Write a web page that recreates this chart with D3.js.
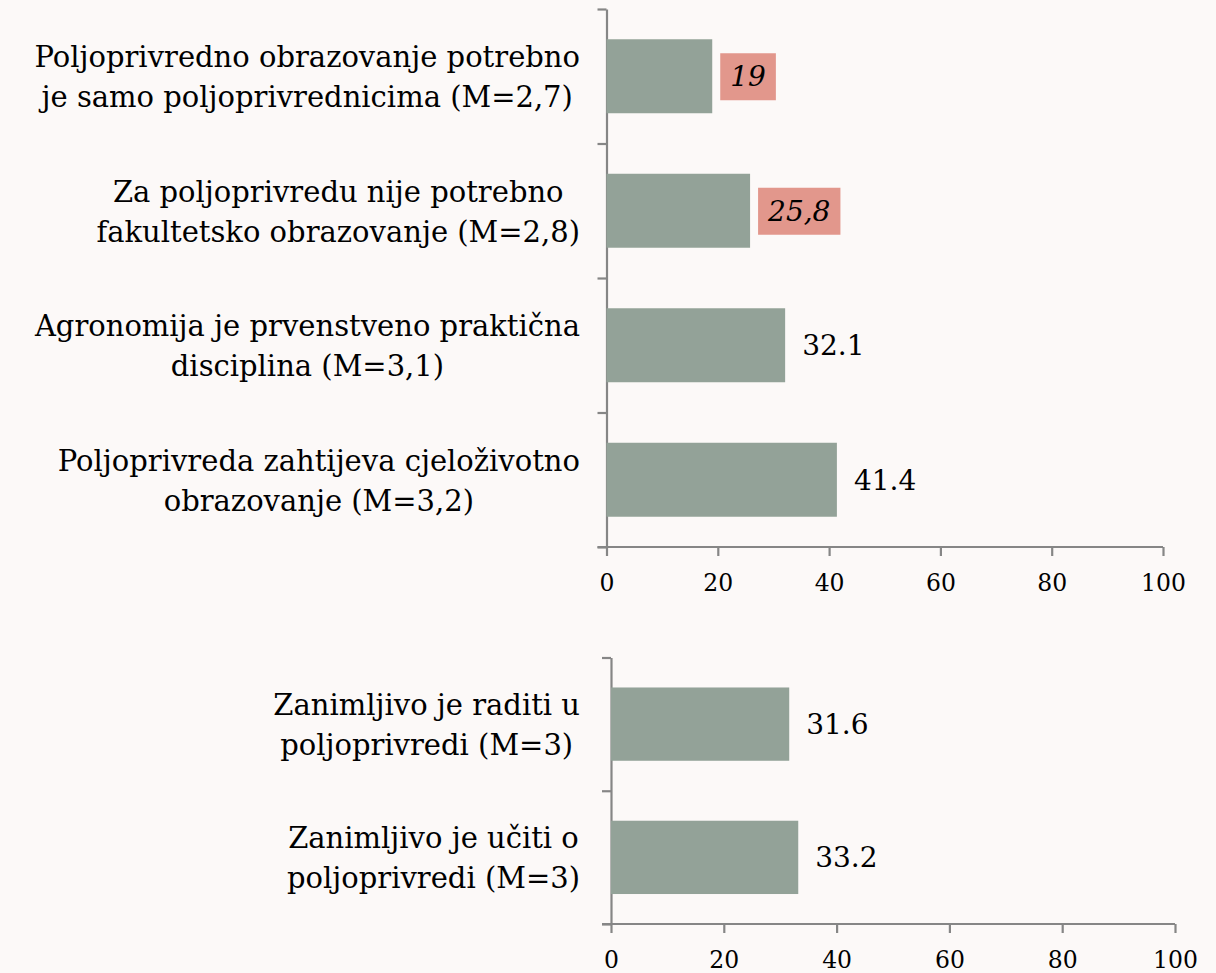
<!DOCTYPE html>
<html>
<head>
<meta charset="utf-8">
<script src="https://cdn.jsdelivr.net/npm/d3@7"></script>
<style>
  html, body { margin: 0; padding: 0; background: #fcf9f8; }
  svg { display: block; font-family: "DejaVu Serif", serif; }
  .axis path, .axis line { stroke: #868686; stroke-width: 2.2; }
  .axis text { fill: #000; font-family: "DejaVu Serif", serif; }
</style>
</head>
<body>
<svg id="chart" width="1216" height="973"></svg>
<script>
// top panel
const topCategories = [
  'Poljoprivredno obrazovanje potrebno\nje samo poljoprivrednicima (M=2,7)',
  'Za poljoprivredu nije potrebno\nfakultetsko obrazovanje (M=2,8)',
  'Agronomija je prvenstveno praktična\ndisciplina (M=3,1)',
  'Poljoprivreda zahtijeva cjeloživotno\nobrazovanje (M=3,2)'
]
const topValues = [19, 25.8, 32.1, 41.4]
const topValueLabels = ['19', '25,8', '32.1', '41.4']
const topHighlight = [true, true, false, false]

// bottom panel
const bottomCategories = [
  'Zanimljivo je raditi u\npoljoprivredi (M=3)',
  'Zanimljivo je učiti o\npoljoprivredi (M=3)'
]
const bottomValues = [31.6, 33.2]
const bottomValueLabels = ['31.6', '33.2']
const bottomHighlight = [false, false]

const xTicks = [0, 20, 40, 60, 80, 100]

const barColor = '#93a298'
const boxColor = '#e2978c'

const svg = d3.select('#chart')

function panel(opts) {
  const { cats, values, labels, highlight, left, right, top, bottom, labelRight } = opts

  const g = svg.append('g')

  const x = d3.scaleLinear()
    .domain([0, 100])
    .range([left, right])

  const y = d3.scaleBand()
    .domain(cats)
    .range([top, bottom])
    .paddingInner(0.45)
    .paddingOuter(0.225)

  // boundaries for the category ticks
  const yb = d3.scaleLinear()
    .domain([0, cats.length])
    .range([top, bottom])

  // y axis (ticks only between categories)
  g.append('g')
    .attr('class', 'axis')
    .attr('transform', `translate(${left},0)`)
    .call(d3.axisLeft(yb).tickValues(d3.range(cats.length + 1)).tickSize(9).tickSizeOuter(0).tickFormat(''))

  // x axis
  const xa = g.append('g')
    .attr('class', 'axis')
    .attr('transform', `translate(0,${bottom})`)
    .call(d3.axisBottom(x).tickValues(xTicks).tickSize(9).tickSizeOuter(0).tickPadding(18))
  xa.select('.domain').attr('d', `M${left - 9},0H${right}`)
  xa.selectAll('text').style('font-size', '23.5px')

  // bars
  g.selectAll('.bar').data(cats)
    .join('rect')
    .attr('class', 'bar')
    .attr('x', x(0))
    .attr('y', d => y(d))
    .attr('width', (d, i) => x(values[i]) - x(0))
    .attr('height', y.bandwidth())
    .attr('fill', barColor)

  // category labels, wrapped block centred, block right aligned
  cats.forEach((c, i) => {
    const lines = c.split('\n')
    const cy = y(c) + y.bandwidth() / 2
    const t = g.append('g')
    const texts = t.selectAll('text').data(lines)
      .join('text')
      .attr('y', (d, j) => cy + (j - (lines.length - 1) / 2) * 40)
      .attr('dy', '0.38em')
      .attr('text-anchor', 'middle')
      .style('font-size', '29px')
      .text(d => d)
    let w = 0
    texts.each(function() { w = Math.max(w, this.getComputedTextLength()) })
    texts.attr('x', labelRight - w / 2)
  })

  // value labels
  cats.forEach((c, i) => {
    const cy = y(c) + y.bandwidth() / 2
    const bx = x(values[i])
    if (highlight[i]) {
      const t = g.append('text')
        .attr('x', bx + 18)
        .attr('y', cy)
        .attr('dy', '0.36em')
        .style('font-size', '28px')
        .style('font-style', 'italic')
        .text(labels[i])
      const w = t.node().getComputedTextLength()
      g.insert('rect', () => t.node())
        .attr('x', bx + 8)
        .attr('y', cy - 23)
        .attr('width', w + 20)
        .attr('height', 47)
        .attr('fill', boxColor)
    } else {
      g.append('text')
        .attr('x', bx + 17)
        .attr('y', cy)
        .attr('dy', '0.36em')
        .style('font-size', '28px')
        .text(labels[i])
    }
  })
}

panel({
  cats: topCategories, values: topValues, labels: topValueLabels, highlight: topHighlight,
  left: 606.5, right: 1163, top: 9, bottom: 547, labelRight: 580
})

panel({
  cats: bottomCategories, values: bottomValues, labels: bottomValueLabels, highlight: bottomHighlight,
  left: 611, right: 1175, top: 657.5, bottom: 924, labelRight: 580
})
</script>
</body>
</html>
